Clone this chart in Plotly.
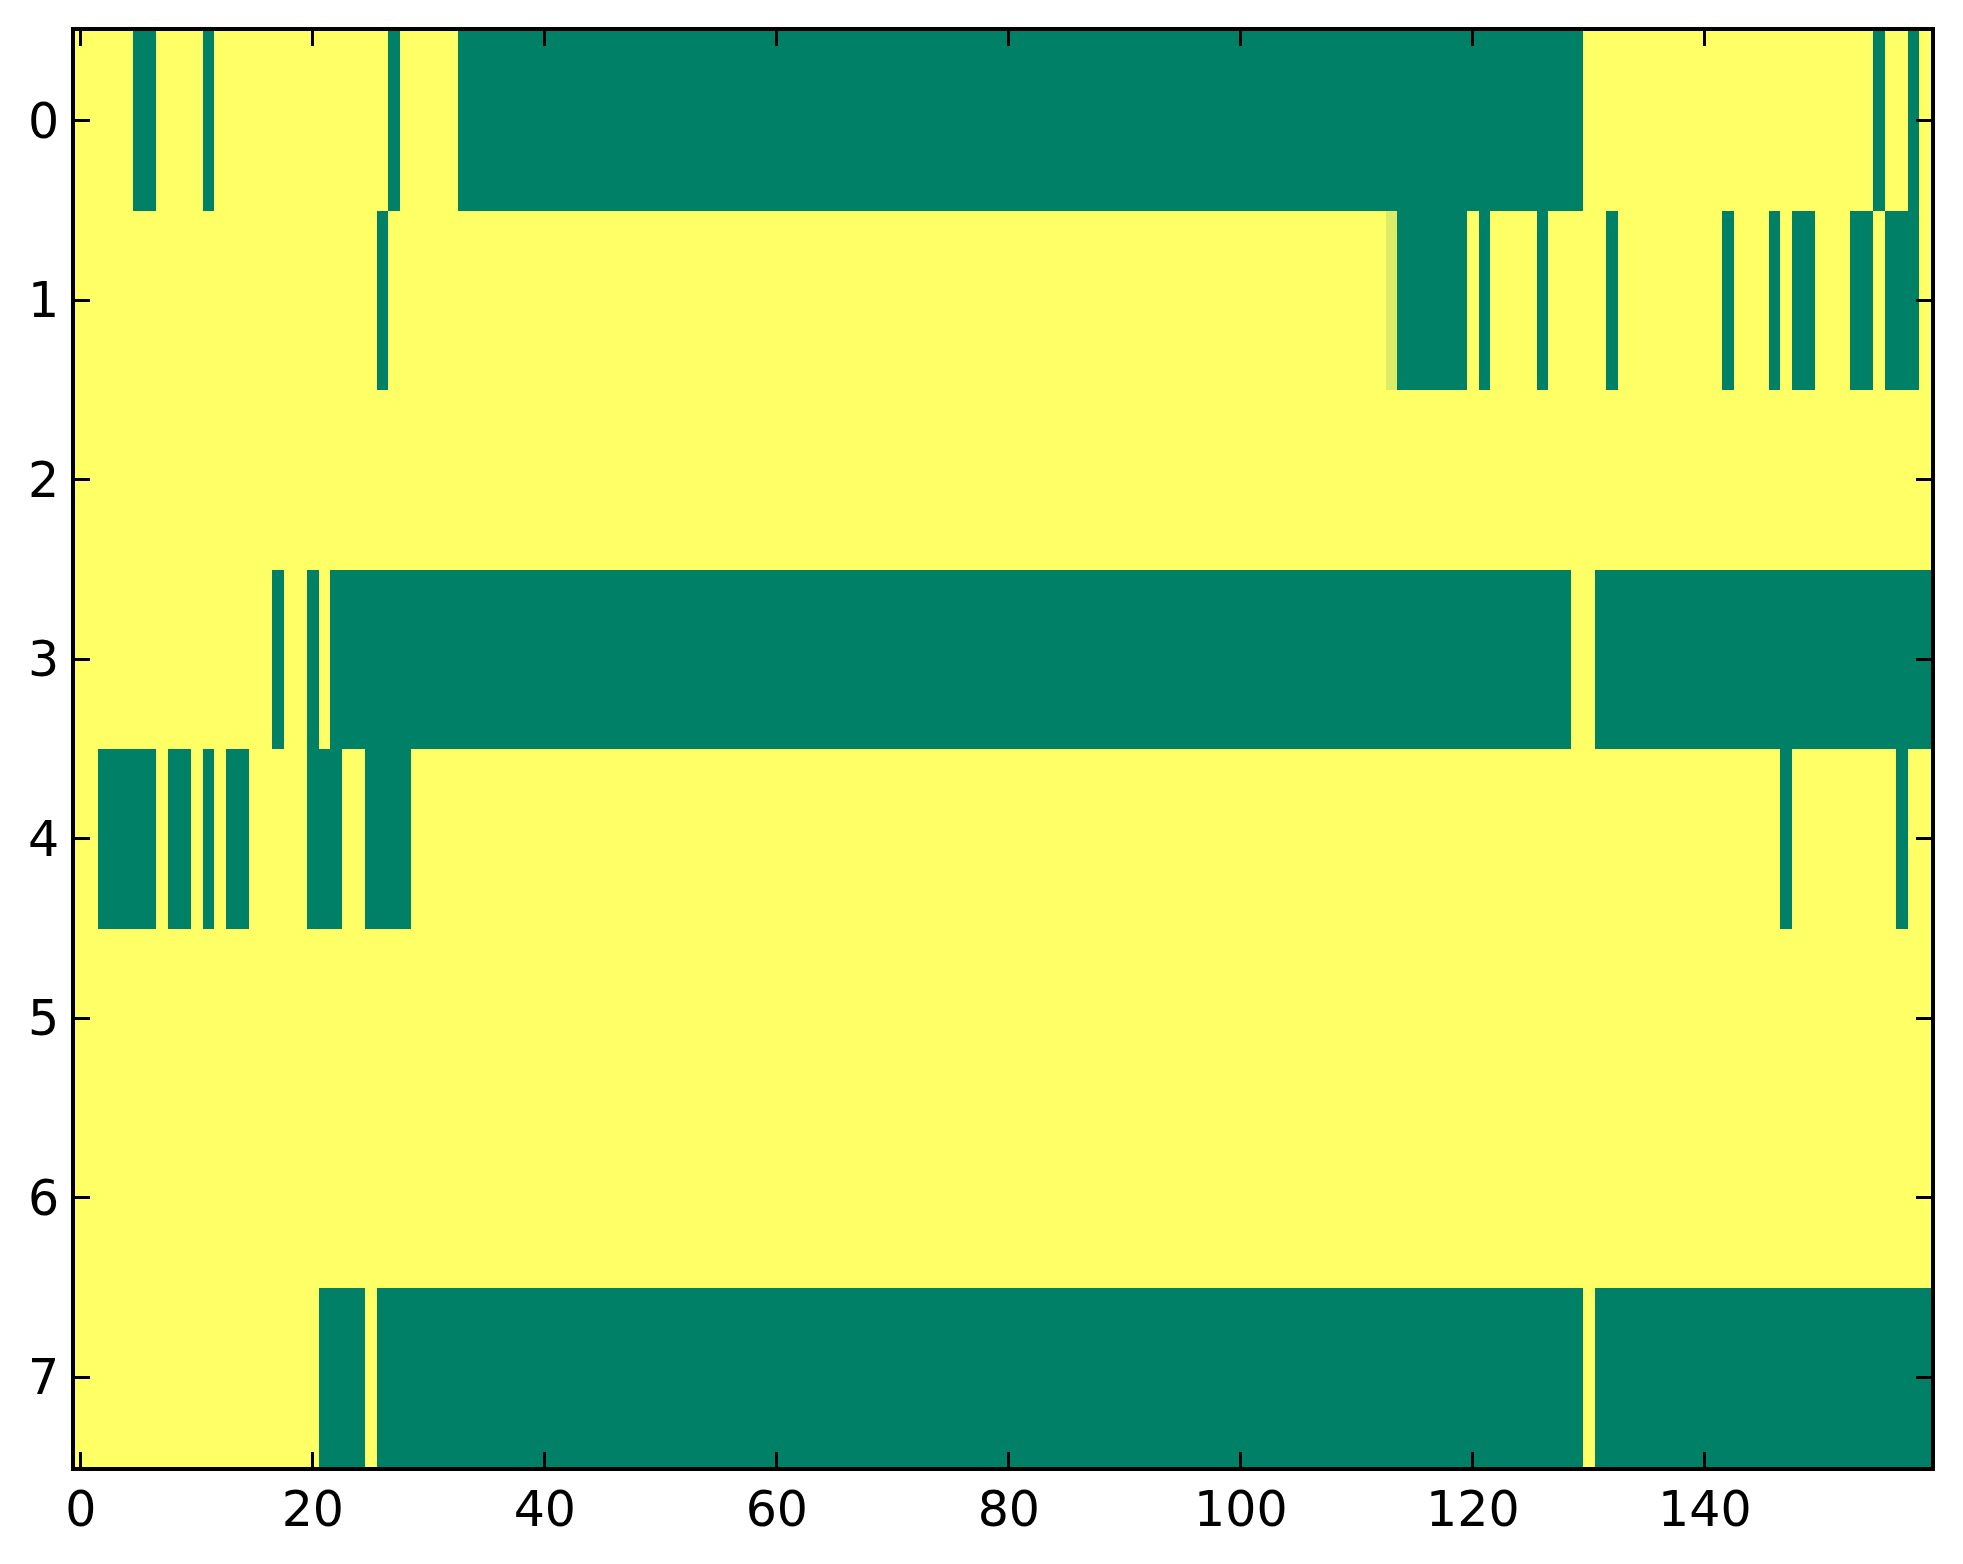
import plotly.graph_objects as go

# grid size: 8 rows x 160 columns
n_rows = 8
n_cols = 160

# green (value 0) runs per row, inclusive column spans; everything else is yellow (1)
row0_green = [(5, 6), (11, 11), (27, 27), (33, 129), (155, 155), (158, 158)]
row1_green = [(26, 26), (114, 119), (121, 121), (126, 126), (132, 132), (142, 142),
              (146, 146), (148, 149), (153, 154), (156, 158)]
row2_green = []
row3_green = [(17, 17), (20, 20), (22, 128), (131, 159)]
row4_green = [(2, 6), (8, 9), (11, 11), (13, 14), (20, 22), (25, 28), (147, 147), (157, 157)]
row5_green = []
row6_green = []
row7_green = [(21, 24), (26, 129), (131, 159)]

# the single in-between cell (row, col, value)
partial_cells = [(1, 113, 0.86)]

x_ticks = [0, 20, 40, 60, 80, 100, 120, 140]
y_ticks = [0, 1, 2, 3, 4, 5, 6, 7]

runs = [row0_green, row1_green, row2_green, row3_green,
        row4_green, row5_green, row6_green, row7_green]

z = []
for spans in runs:
    row = [1.0] * n_cols
    for a, b in spans:
        for c in range(a, b + 1):
            row[c] = 0.0
    z.append(row)
for r, c, v in partial_cells:
    z[r][c] = v

# matplotlib "summer" colormap
summer = [[0.0, "#008066"], [1.0, "#ffff66"]]

fig = go.Figure(go.Heatmap(
    z=z,
    x=list(range(n_cols)),
    y=list(range(n_rows)),
    colorscale=summer,
    zmin=0, zmax=1,
    showscale=False,
    hoverinfo="skip",
))

axis_style = dict(
    showgrid=False,
    zeroline=False,
    showline=True,
    mirror="ticks",
    linecolor="black",
    linewidth=4,
    ticks="inside",
    ticklen=15,
    tickwidth=2.5,
    tickcolor="black",
    tickfont=dict(family="DejaVu Sans", size=49, color="black"),
)

# the page body adds an 8px offset, so the figure is a bit smaller than the window
fig.update_layout(
    width=1955,
    height=1556,
    margin=dict(l=67, r=32, t=23, b=97),
    paper_bgcolor="white",
    plot_bgcolor="white",
    xaxis=dict(range=[-0.5, n_cols - 0.5], tickvals=x_ticks, ticklabelstandoff=-4, **axis_style),
    yaxis=dict(range=[n_rows - 0.5, -0.5], tickvals=y_ticks, ticklabelstandoff=2, **axis_style),
)

fig.write_html("out.html")
